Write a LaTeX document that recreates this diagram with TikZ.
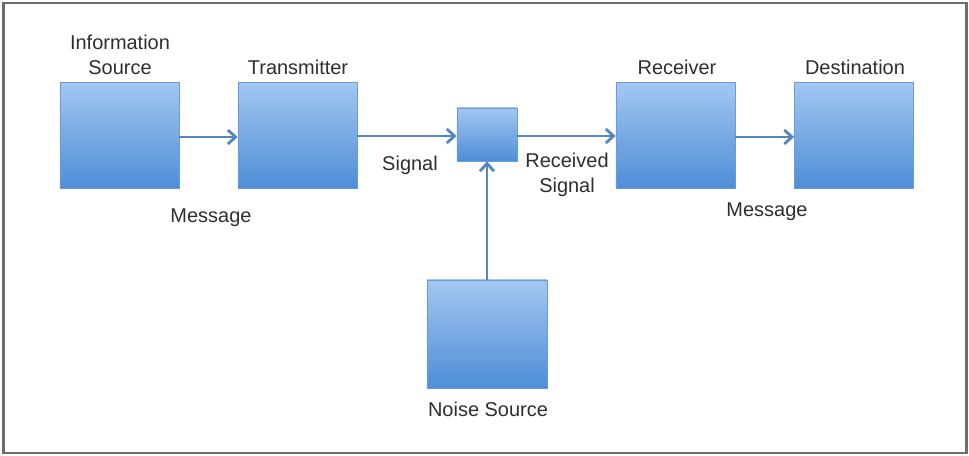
\documentclass[tikz,border=0pt]{standalone}
\usepackage{fontspec}
\setmainfont{Liberation Sans}
\usepackage{tikz}
\usetikzlibrary{arrows.meta,positioning}
\definecolor{boxtop}{HTML}{A3C7F2}
\definecolor{boxbot}{HTML}{4E8DD6}
\definecolor{boxline}{HTML}{6C9CD6}
\definecolor{arrowblue}{HTML}{5685C2}
\definecolor{txt}{HTML}{2E2E2E}

\begin{document}
\begin{tikzpicture}[x=0.025cm,y=-0.025cm,
    block/.style={draw=boxline,line width=0.5pt,top color=boxtop,bottom color=boxbot,
      minimum width=2.975cm,minimum height=2.65cm,inner sep=0pt},
    lbl/.style={text=txt,font=\fontsize{14.2}{17.8}\selectfont,align=center,inner sep=0pt},
    flow/.style={arrowblue,line width=2.1pt,-{Straight Barb[length=5.5pt,width=10pt,line width=2pt]}}]
    \useasboundingbox (0,0) rectangle (969,455);
    \draw[gray!85!black,line width=1.5pt] (3.5,3) rectangle (966.5,453);

    \node[block] (src) at (119.5,135.5) {};
    \node[block] (tx) at (297.5,135.5) {};
    \node[block,minimum width=1.5cm,minimum height=1.325cm] (mix) at (487,134.5) {};
    \node[block] (rx) at (675.5,135.5) {};
    \node[block] (dst) at (854,135.5) {};
    \node[block,minimum width=3cm,minimum height=2.7cm] (noise) at (487,334) {};

    \node[lbl] (srcname) at (120,55) {Information\\Source};
    \node[lbl] (txname) at (298,67) {Transmitter};
    \node[lbl] (rxname) at (677,67) {Receiver};
    \node[lbl] (dstname) at (855,67) {Destination};
    \node[lbl] (noisename) at (488,409) {Noise Source};
    \node[lbl] (msg1) at (211,218) {Message};
    \node[lbl] (sig) at (410,165) {Signal};
    \node[lbl] (rsig) at (567,175) {Received\\Signal};
    \node[lbl] (msg2) at (767,212) {Message};

    \draw[flow] (src.east |- 0,137) -- (tx.west |- 0,137);
    \draw[flow] (tx.east |- 0,136) -- (mix.west |- 0,136);
    \draw[flow] (mix.east |- 0,136) -- (rx.west |- 0,136);
    \draw[flow] (rx.east |- 0,137) -- (dst.west |- 0,137);
    \draw[flow] (noise.north) -- (mix.south);
\end{tikzpicture}
\end{document}
